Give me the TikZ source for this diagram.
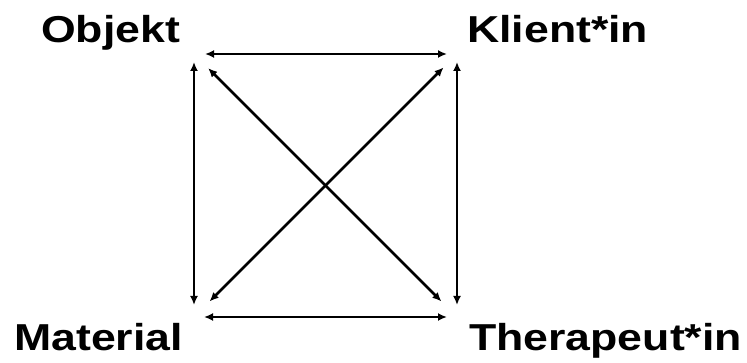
\documentclass[tikz,border=0pt]{standalone}
\usepackage{fontspec}
\setmainfont{Liberation Sans}[FakeStretch=1.19]
\usepackage{tikz}
\usetikzlibrary{arrows.meta}

\begin{document}
\begin{tikzpicture}[
  x=1pt, y=-1pt,
  font=\fontsize{37.5}{40}\selectfont\bfseries,
  label/.style={inner sep=0pt, anchor=base west},
  arrow/.style={{Latex[length=9pt,width=8pt]}-{Latex[length=9pt,width=8pt]}, line width=2.6pt}
]
\useasboundingbox (0,0) rectangle (747,363);
% texts
\node[label] (objekt) at (41,43) {Objekt};
\node[label] (klient) at (467,43) {Klient*in};
\node[label] (material) at (14,350) {Material};
\node[label] (therapeut) at (469,350) {Therapeut*in};
% corners of the square
\coordinate (o) at (194,54);
\coordinate (k) at (457,54);
\coordinate (m) at (194,317);
\coordinate (t) at (457,317);
\draw[arrow, shorten <=11pt, shorten >=10pt] (o) -- (k);
\draw[arrow, shorten <=10pt, shorten >=10pt] (m) -- (t);
\draw[arrow, shorten <=8pt, shorten >=12pt] (o) -- (m);
\draw[arrow, shorten <=8pt, shorten >=12pt] (k) -- (t);
\draw[arrow, shorten <=20pt, shorten >=22pt] (o) -- (t);
\draw[arrow, shorten <=19pt, shorten >=22pt] (k) -- (m);
\end{tikzpicture}
\end{document}
